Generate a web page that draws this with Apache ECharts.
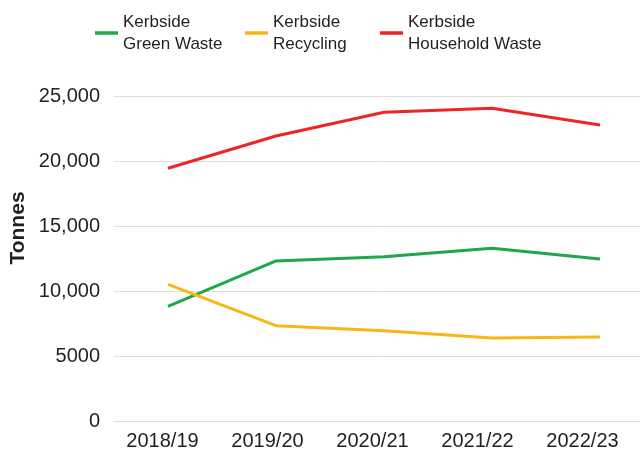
<!DOCTYPE html>
<html><head><meta charset="utf-8">
<script src="https://cdn.jsdelivr.net/npm/echarts@6/dist/echarts.min.js"></script>
<style>html,body{margin:0;padding:0;background:#fff}#c{width:640px;height:452px}</style>
</head><body><div id="c"></div>
<script>
const categories = ['2018/19','2019/20','2020/21','2021/22','2022/23'];
const greenWaste = [8850, 12350, 12680, 13320, 12500];
const recycling = [10550, 7370, 6980, 6420, 6500];
const household = [19480, 21960, 23790, 24090, 22810];
const yTickLabels = {0:'0',5000:'5000',10000:'10,000',15000:'15,000',20000:'20,000',25000:'25,000'};
const seriesNames = ['Kerbside\nGreen Waste','Kerbside\nRecycling','Kerbside\nHousehold Waste'];
const colors = ['#1ea84b','#f7b718','#ee2524'];

const chart = echarts.init(document.getElementById('c'));
const textColor = '#231f20';
const legendFont = {fontFamily:'Liberation Sans Narrow, Liberation Sans, sans-serif', fontSize:17, color:textColor, lineHeight:22};
const legendLefts = [90, 240, 375];
const datas = [greenWaste, recycling, household];
chart.setOption({
  animation:false,
  grid:[
    {left:114, width:540, top:96.5, bottom:30.5, outerBoundsMode:'none', containLabel:false},
    {left:110, width:525, top:96.5, bottom:30.5, outerBoundsMode:'none', containLabel:false}
  ],
  legend: seriesNames.map((n,i)=>({
    data:[n], left:legendLefts[i], top:6, icon:'rect', itemWidth:23, itemHeight:3.5, itemGap:5,
    textStyle:legendFont, selectedMode:false
  })),
  xAxis:[
    {type:'category', data:categories, gridIndex:0, boundaryGap:true,
     axisLine:{show:true, lineStyle:{color:'#e3dcdc', width:1}}, axisTick:{show:false}, axisLabel:{show:false}},
    {type:'category', data:categories, gridIndex:1, boundaryGap:true,
     axisLine:{show:false}, axisTick:{show:false},
     axisLabel:{show:true, margin:10, fontFamily:'Liberation Sans, Arial, sans-serif', fontSize:20, color:textColor}}
  ],
  yAxis:[
    {type:'value', gridIndex:0, min:0, max:25000, interval:5000,
     axisLine:{show:false}, axisTick:{show:false},
     splitLine:{lineStyle:{color:'#e3dcdc', width:1}},
     axisLabel:{margin:14, fontFamily:'Liberation Sans, Arial, sans-serif', fontSize:20, color:textColor,
       formatter:v=>yTickLabels[v]}},
    {type:'value', gridIndex:1, min:0, max:25000, show:false}
  ],
  graphic:[{type:'text', x:18, y:228, rotation:Math.PI/2,
    style:{text:'Tonnes', align:'center', verticalAlign:'middle', fill:textColor,
      font:'bold 21px "Liberation Sans", Arial, sans-serif'}}],
  series: seriesNames.map((n,i)=>({
    name:n, type:'line', xAxisIndex:0, yAxisIndex:0, data:datas[i],
    showSymbol:false, symbol:'none', lineStyle:{color:colors[i], width:3}, itemStyle:{color:colors[i]}
  }))
});
</script></body></html>
